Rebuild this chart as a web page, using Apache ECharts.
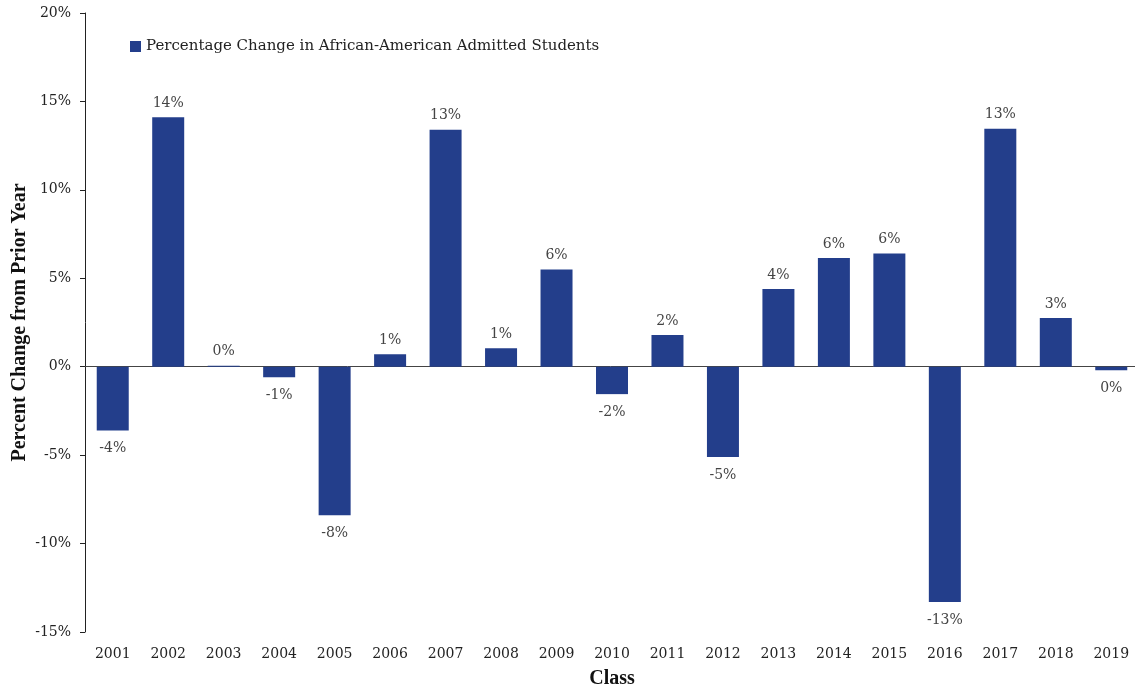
<!DOCTYPE html>
<html>
<head>
<meta charset="utf-8">
<script src="https://cdn.jsdelivr.net/npm/echarts@6/dist/echarts.min.js"></script>
<style>
  html, body { margin: 0; padding: 0; background: #fff; }
  #main { width: 1135px; height: 692px; }
</style>
</head>
<body>
<div id="main"></div>
<script>
var classes = ['2001', '2002', '2003', '2004', '2005', '2006', '2007', '2008', '2009', '2010',
  '2011', '2012', '2013', '2014', '2015', '2016', '2017', '2018', '2019'];
// percent change in admitted students vs prior year
var pctChange = [-3.6, 14.1, 0.05, -0.6, -8.4, 0.7, 13.4, 1.05, 5.5, -1.55,
  1.8, -5.1, 4.4, 6.15, 6.4, -13.3, 13.45, 2.75, -0.2];
var yTicks = [-15, -10, -5, 0, 5, 10, 15, 20];

var font = '"DejaVu Serif", "Liberation Serif", serif';
var titleFont = '"Liberation Serif", "Times New Roman", serif';

var barData = pctChange.map(function (v) {
  return {
    value: v,
    label: v < 0 ? { position: 'bottom', distance: 11 } : { position: 'top', distance: 7 }
  };
});

var chart = echarts.init(document.getElementById('main'));
var option = {
  animation: false,
  textStyle: { fontFamily: font },
  legend: {
    left: 125,
    top: 34,
    itemWidth: 11,
    itemHeight: 11,
    itemGap: 4,
    icon: 'rect',
    textStyle: { fontFamily: font, fontSize: 15, color: '#222' },
    data: ['Percentage Change in African-American Admitted Students']
  },
  grid: { left: 85, right: -4, top: 13, bottom: 60, outerBoundsMode: 'none', containLabel: false },
  xAxis: [{
    type: 'category',
    data: classes,
    position: 'bottom',
    name: 'Class',
    nameLocation: 'middle',
    nameGap: 37,
    nameMoveOverlap: false,
    nameTextStyle: { fontFamily: titleFont, fontSize: 20, fontWeight: 'bold', color: '#111' },
    axisLine: { show: false, onZero: false },
    axisTick: { show: false },
    axisLabel: { fontFamily: font, fontSize: 14, color: '#222', margin: 15 }
  }, {
    type: 'category',
    data: classes,
    position: 'top',
    axisLine: { show: true, onZero: true, lineStyle: { color: '#444', width: 1 } },
    axisTick: { show: false },
    axisLabel: { show: false }
  }],
  yAxis: {
    type: 'value',
    min: yTicks[0],
    max: yTicks[yTicks.length - 1],
    interval: 5,
    name: 'Percent Change from Prior Year',
    nameLocation: 'middle',
    nameGap: 55,
    nameMoveOverlap: false,
    nameTextStyle: { fontFamily: titleFont, fontSize: 20, fontWeight: 'bold', color: '#111' },
    axisLine: { show: true, lineStyle: { color: '#222', width: 1 } },
    axisTick: { show: true, length: 5, lineStyle: { color: '#222' } },
    splitLine: { show: false },
    axisLabel: {
      fontFamily: font, fontSize: 14, color: '#222', margin: 14,
      formatter: function (v) { return v + '%'; }
    }
  },
  series: [{
    name: 'Percentage Change in African-American Admitted Students',
    type: 'bar',
    xAxisIndex: 0,
    data: barData,
    barWidth: 32,
    itemStyle: { color: '#233e8b' },
    label: {
      show: true,
      fontFamily: font,
      fontSize: 14,
      color: '#444',
      formatter: function (p) {
        var r = Math.round(p.value);
        if (r === 0) r = 0;
        return r + '%';
      }
    }
  }]
};
chart.setOption(option);
</script>
</body>
</html>
